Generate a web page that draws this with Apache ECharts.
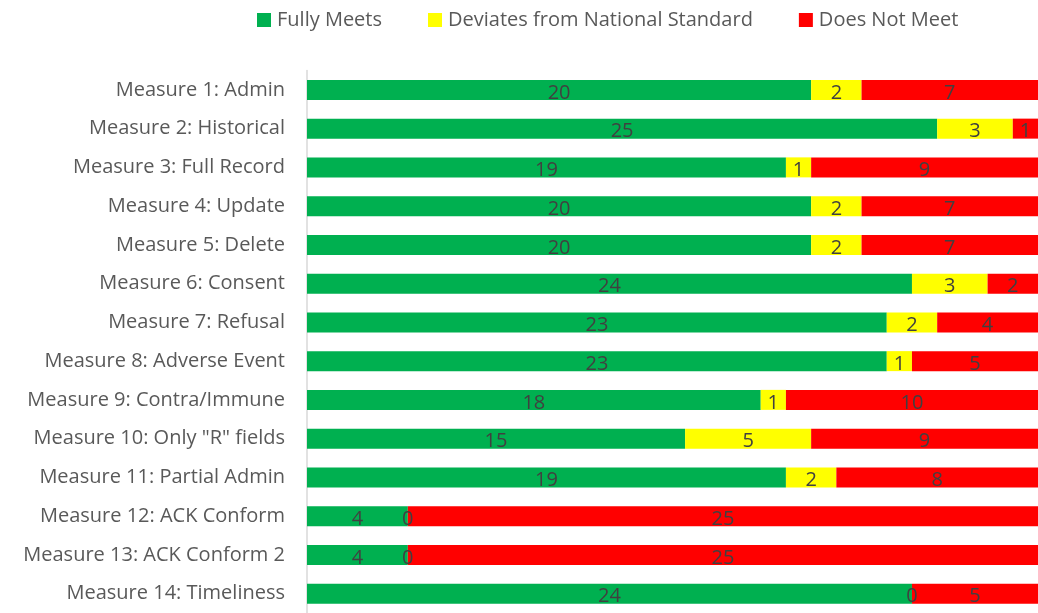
<!DOCTYPE html>
<html><head><meta charset="utf-8">
<script src="https://cdn.jsdelivr.net/npm/echarts@6/dist/echarts.min.js"></script>
<style>html,body{margin:0;padding:0;background:#fff}#c{width:1038px;height:613px}</style>
</head><body><div id="c"></div>
<script>
const categories = ["Measure 1: Admin","Measure 2: Historical","Measure 3: Full Record","Measure 4: Update","Measure 5: Delete","Measure 6: Consent","Measure 7: Refusal","Measure 8: Adverse Event","Measure 9: Contra/Immune","Measure 10: Only \"R\" fields","Measure 11: Partial Admin","Measure 12: ACK Conform","Measure 13: ACK Conform 2","Measure 14: Timeliness"];
const fullyMeets = [20,25,19,20,20,24,23,23,18,15,19,4,4,24];
const deviates = [2,3,1,2,2,3,2,1,1,5,2,0,0,0];
const doesNotMeet = [7,1,9,7,7,2,4,5,10,9,8,25,25,5];
const seriesNames = ["Fully Meets","Deviates from National Standard","Does Not Meet"];
const colors = ["#00B050","#FFFF00","#FF0000"];
const FONT = "Open Sans";
const chart = echarts.init(document.getElementById('c'));
const mk = (name, data, color) => ({
  name, type: 'bar', stack: 'total', data, barWidth: 20,
  itemStyle: { color },
  label: { show: true, position: 'inside', color: '#404040', fontFamily: FONT, fontSize: 20, offset: [0, 3] },
  emphasis: { disabled: true }
});
chart.setOption({
  animation: false,
  textStyle: { fontFamily: FONT },
  legend: {
    left: 252, top: 5, itemWidth: 14, itemHeight: 14, itemGap: 46,
    icon: 'rect',
    textStyle: { color: '#595959', fontSize: 20, fontFamily: FONT, padding: [0,0,0,1] },
    data: seriesNames
  },
  grid: { left: 307, right: 0, top: 70.5, height: 549.8, containLabel: false },
  xAxis: { type: 'value', min: 0, max: 29, show: false, splitLine: { show: false } },
  yAxis: {
    type: 'category', inverse: true, data: categories,
    axisLine: { show: true, lineStyle: { color: '#D9D9D9', width: 1.5 } },
    axisTick: { show: false },
    axisLabel: { color: '#595959', fontSize: 20, fontFamily: FONT, margin: 22, verticalAlign: 'middle' }
  },
  series: [mk(seriesNames[0], fullyMeets, colors[0]), mk(seriesNames[1], deviates, colors[1]), mk(seriesNames[2], doesNotMeet, colors[2])]
});
</script></body></html>
